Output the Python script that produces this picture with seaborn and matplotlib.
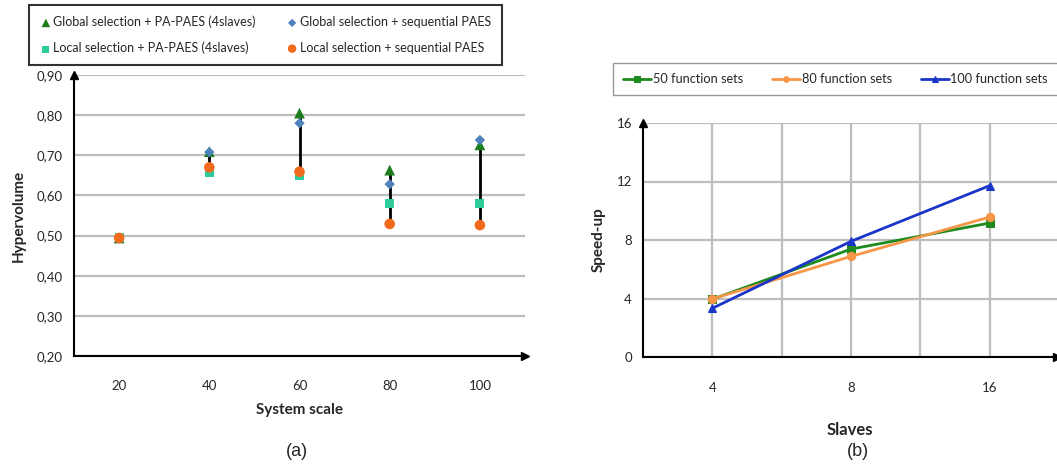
import numpy as np
import matplotlib.pyplot as plt
import seaborn as sns
from matplotlib.ticker import FuncFormatter, FixedLocator

sns.set_style("white")
plt.rcParams['font.family'] = ['Lato', 'DejaVu Sans']

# (a) hypervolume per system scale
scales = ["20", "40", "60", "80", "100"]
global_pa = [0.494, 0.709, 0.805, 0.663, 0.726]
global_seq = [0.494, 0.708, 0.780, 0.628, 0.738]
local_pa = [0.494, 0.657, 0.649, 0.580, 0.580]
local_seq = [0.494, 0.670, 0.659, 0.529, 0.526]

# (b) speed-up per number of slaves
slaves = ["4", "8", "16"]
fs50 = [3.95, 7.38, 9.16]
fs80 = [3.97, 6.88, 9.57]
fs100 = [3.33, 7.91, 11.72]

W, H = 1057, 467
fig = plt.figure(figsize=(W / 100, H / 100), dpi=100)

def box(l, t, r, b):
    return [l / W, 1 - b / H, (r - l) / W, (b - t) / H]

grid_c = "#bdbdbd"

# ---------------- (a) ----------------
ax1 = fig.add_axes(box(74, 75, 525, 356))
xs = np.arange(len(scales))

series_a = [
    ("Global selection + PA-PAES (4slaves)", global_pa, "^", "#1c7d1c", 60),
    ("Global selection + sequential PAES", global_seq, "D", "#4f81bd", 28),
    ("Local selection + PA-PAES (4slaves)", local_pa, "s", "#2ecc9a", 42),
    ("Local selection + sequential PAES", local_seq, "o", "#f26a1b", 58),
]

allv = np.array([s[1] for s in series_a])
ax1.vlines(xs, allv.min(axis=0), allv.max(axis=0), color="black", lw=2, zorder=2)

for name, vals, mk, col, sz in series_a:
    sns.scatterplot(x=xs, y=vals, marker=mk, color=col, s=sz, edgecolor="none",
                    ax=ax1, zorder=3, label=name)
h, l = ax1.get_legend_handles_labels()
ax1.get_legend().remove()

ax1.set_xlim(-0.5, len(scales) - 0.5)
ax1.set_ylim(0.2, 0.9)
ax1.set_yticks(np.arange(0.2, 0.91, 0.1))
ax1.yaxis.set_major_formatter(FuncFormatter(lambda v, p: f"{v:.2f}".replace(".", ",")))
ax1.set_xticks(xs)
ax1.set_xticklabels(scales)
ax1.xaxis.set_minor_locator(FixedLocator(np.arange(-0.5, len(scales), 1.0)))
ax1.tick_params(axis="x", which="major", length=0, pad=17, labelsize=9.5)
ax1.tick_params(axis="x", which="minor", length=4, width=1.2, color="black", direction="out")
ax1.tick_params(axis="y", length=4, width=1.2, color="black", direction="out", pad=4, labelsize=9.5)
ax1.yaxis.grid(True, color=grid_c, lw=1.6)
ax1.set_axisbelow(True)
for s in ["top", "right"]:
    ax1.spines[s].set_visible(False)
for s in ["left", "bottom"]:
    ax1.spines[s].set_color("black")
    ax1.spines[s].set_linewidth(1.5)
ax1.plot(0, 1.0, marker="^", color="black", ms=6, transform=ax1.transAxes, clip_on=False)
ax1.plot(1.0, 0, marker=">", color="black", ms=6, transform=ax1.transAxes, clip_on=False)
ax1.set_xlabel("System scale", fontweight="bold", fontsize=11, labelpad=8)
ax1.set_ylabel("Hypervolume", fontweight="bold", fontsize=11, labelpad=8)

order = [0, 2, 1, 3]
leg1 = fig.legend([h[i] for i in order], [l[i] for i in order], ncol=2,
                  loc="upper left", bbox_to_anchor=(29 / W, 1 - 5 / H), borderaxespad=0,
                  fontsize=9, frameon=True, fancybox=False, handletextpad=0.1,
                  columnspacing=2.4, markerscale=0.8, borderpad=0.85, labelspacing=1.1,
                  handlelength=1.0)
leg1.get_frame().set_edgecolor("black")
leg1.get_frame().set_linewidth(1.5)

fig.text(297 / W, 1 - 451 / H, "(a)", ha="center", va="center", fontsize=13,
         family=["Liberation Sans", "DejaVu Sans"])

# ---------------- (b) ----------------
ax2 = fig.add_axes(box(643, 123, 1057, 357))
xb = np.arange(len(slaves))
series_b = [
    ("50 function sets", fs50, "s", "#1e8a1e"),
    ("80 function sets", fs80, "o", "#f79646"),
    ("100 function sets", fs100, "^", "#1a35c8"),
]
for name, vals, mk, col in series_b:
    sns.lineplot(x=xb, y=vals, marker=mk, color=col, lw=2, ms=6, markeredgecolor=col,
                 ax=ax2, label=name, zorder=3)
h2, l2 = ax2.get_legend_handles_labels()
ax2.get_legend().remove()

ax2.set_xlim(-0.5, 2.485)
ax2.set_ylim(0, 16)
ax2.set_yticks([0, 4, 8, 12, 16])
ax2.set_xticks(xb)
ax2.set_xticklabels(slaves)
ax2.xaxis.set_minor_locator(FixedLocator([0.5, 1.5]))
ax2.grid(True, which="both", color=grid_c, lw=1.6)
ax2.set_axisbelow(True)
ax2.tick_params(axis="x", which="major", length=4, width=1.2, color="black", direction="out",
                pad=14, labelsize=9.5)
ax2.tick_params(axis="x", which="minor", length=0)
ax2.tick_params(axis="y", length=4, width=1.2, color="black", direction="out", pad=4, labelsize=9.5)
for s in ["top", "right"]:
    ax2.spines[s].set_visible(False)
for s in ["left", "bottom"]:
    ax2.spines[s].set_color("black")
    ax2.spines[s].set_linewidth(1.5)
ax2.plot(0, 1.0, marker="^", color="black", ms=6, transform=ax2.transAxes, clip_on=False)
ax2.plot(1.0, 0, marker=">", color="black", ms=6, transform=ax2.transAxes, clip_on=False)
ax2.set_xlabel("Slaves", fontweight="bold", fontsize=12, labelpad=20)
ax2.set_ylabel("Speed-up", fontweight="bold", fontsize=11, labelpad=8)

leg2 = fig.legend(h2, l2, ncol=3, loc="upper left", bbox_to_anchor=(613 / W, 1 - 63 / H),
                  borderaxespad=0, fontsize=9.2, frameon=True, fancybox=False,
                  handletextpad=0.1, columnspacing=2.3, handlelength=2.2, borderpad=0.8)
leg2.get_frame().set_edgecolor("#808080")
leg2.get_frame().set_linewidth(1.0)
for ln in leg2.get_lines():
    ln.set_markersize(4)

fig.text(858 / W, 1 - 452 / H, "(b)", ha="center", va="center", fontsize=13,
         family=["Liberation Sans", "DejaVu Sans"])

fig.savefig("out.png", dpi=100)
